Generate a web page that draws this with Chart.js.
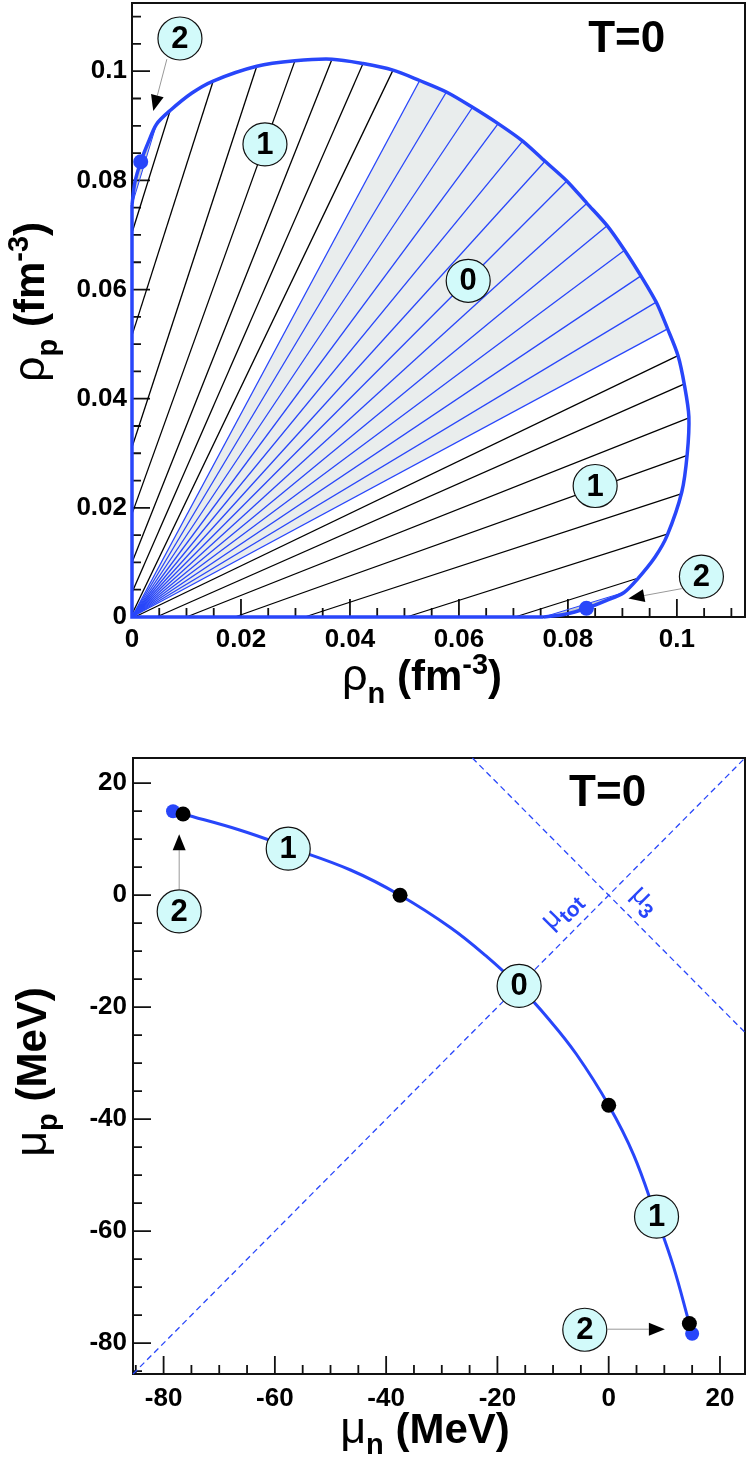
<!DOCTYPE html>
<html>
<head>
<meta charset="utf-8">
<script src="https://cdn.jsdelivr.net/npm/chart.js@4.4.1/dist/chart.umd.min.js"></script>
<style>
  html, body { margin: 0; padding: 0; background: #fff; }
  canvas { display: block; }
</style>
</head>
<body>
<canvas id="topChart" width="747" height="731"></canvas>
<canvas id="bottomChart" width="747" height="731"></canvas>
<script>
// ---- upper panel: densities (fm^-3) ----
const rhoMin = 0, rhoMax = 0.1125;
const rhoTicks = [0, 0.02, 0.04, 0.06, 0.08, 0.1];
const rhoTickLabels = ['0', '0.02', '0.04', '0.06', '0.08', '0.1'];

// boundary of the coexistence region, clockwise
const edgeN = [0, 0.0005, 0.0016, 0.0030, 0.0045, 0.0070, 0.0110, 0.0149, 0.0229, 0.0299,
  0.0367, 0.0424, 0.0479, 0.0528, 0.0577, 0.0625, 0.0672, 0.0717, 0.0758, 0.0798,
  0.0835, 0.0872, 0.0904, 0.0934, 0.0962, 0.0983, 0.1002, 0.1014, 0.1022, 0.1019,
  0.1009, 0.0982, 0.0960, 0.0928, 0.0903, 0.0870, 0.0834, 0.0795, 0.0755];
const edgeP = [0.0755, 0.0795, 0.0834, 0.0870, 0.0903, 0.0928, 0.0960, 0.0982, 0.1009, 0.1019,
  0.1022, 0.1014, 0.1002, 0.0983, 0.0962, 0.0934, 0.0904, 0.0872, 0.0835, 0.0799,
  0.0758, 0.0717, 0.0672, 0.0625, 0.0577, 0.0528, 0.0479, 0.0424, 0.0367, 0.0299,
  0.0229, 0.0149, 0.0110, 0.0070, 0.0045, 0.0030, 0.0016, 0.0005, 0];
const axisN = [0, 0, 0.0755];
const axisP = [0.0755, 0, 0];

// tie lines: proton gas (rho_n = 0) <-> liquid
const gasP = [0.0704, 0.0516, 0.0311, 0.0189, 0.0100, 0.0045, 0.0005];
const liqN = [0.0070, 0.0149, 0.0229, 0.0299, 0.0367, 0.0424, 0.0479];
const liqP = [0.0928, 0.0982, 0.1009, 0.1019, 0.1022, 0.1014, 0.1002];
// tie lines: neutron gas (rho_p = 0) <-> liquid
const gasN = [0.0703, 0.0504, 0.0317, 0.0189, 0.0100, 0.0045, 0.0005];
const liq2N = [0.0928, 0.0982, 0.1009, 0.1019, 0.1022, 0.1014, 0.1002];
const liq2P = [0.0071, 0.0152, 0.0226, 0.0296, 0.0365, 0.0427, 0.0479];
// liquid-vacuum tie lines (from the origin)
const vacN = [0.0528, 0.0577, 0.0625, 0.0672, 0.0717, 0.0758, 0.0798, 0.0835, 0.0872, 0.0904, 0.0934, 0.0962, 0.0983];
const vacP = [0.0983, 0.0962, 0.0934, 0.0904, 0.0872, 0.0835, 0.0799, 0.0758, 0.0717, 0.0672, 0.0625, 0.0577, 0.0528];
// small three-phase lens near the axes
const lensN = [0, 0.0005, 0.0016, 0.0030, 0.0045];
const lensP = [0.0755, 0.0795, 0.0834, 0.0870, 0.0903];
const dotN = [0.0016, 0.0834];
const dotP = [0.0834, 0.0016];

// ---- lower panel: chemical potentials (MeV) ----
const muMin = -85.5, muMax = 24.5;
const muTicks = [-80, -60, -40, -20, 0, 20];
const muTickLabels = ['-80', '-60', '-40', '-20', '0', '20'];
const curveN = [-76.5, -66.2, -57.3, -46.4, -37.5, -28.4, -22.1, -16.2, -10.8, -5.8, 0, 4.5, 8.5, 11.6, 14.5];
const curveP = [14.5, 11.6, 8.5, 4.5, 0, -5.8, -10.8, -16.2, -22.1, -28.4, -37.5, -46.4, -57.3, -66.2, -76.5];
const blackN = [-76.5, -37.5, 0, 14.5];
const blackP = [14.5, 0, -37.5, -76.5];
const blueN = [-78.3, 15.0];
const blueP = [15.0, -78.3];
const totN = [-85.5, 24.5], totP = [-85.5, 24.5];
const isoN = [-24.5, 24.5], isoP = [24.5, -24.5];

const BLUE = 'rgb(40,70,250)';
const FONT = '"Liberation Sans", Arial, Helvetica, sans-serif';

function pts(xs, ys) { return xs.map((v, i) => ({x: v, y: ys[i]})); }

function line(xs, ys, color, width, tension, dash) {
  return {data: pts(xs, ys), showLine: true, borderColor: color, borderWidth: width,
    borderDash: dash || [], pointRadius: 0, tension: tension, clip: false};
}

function dots(xs, ys, color, r) {
  return {data: pts(xs, ys), showLine: false, pointRadius: r, pointHoverRadius: r,
    pointBackgroundColor: color, pointBorderWidth: 0, clip: false};
}

function drawRuns(ctx, runs, x, y, rot) {
  ctx.save();
  ctx.translate(x, y);
  ctx.rotate(rot || 0);
  ctx.textAlign = 'left';
  ctx.textBaseline = 'alphabetic';
  let w = 0;
  runs.forEach(r => { ctx.font = r.font; w += ctx.measureText(r.text).width; });
  let cx = -w / 2;
  runs.forEach(r => {
    ctx.font = r.font;
    ctx.fillStyle = r.color || '#000';
    ctx.fillText(r.text, cx, r.dy || 0);
    cx += ctx.measureText(r.text).width;
  });
  ctx.restore();
}

function badge(ctx, px, py, text) {
  ctx.save();
  ctx.beginPath();
  ctx.ellipse(px, py, 22, 21.5, 0, 0, 2 * Math.PI);
  ctx.fillStyle = '#d2fafa';
  ctx.fill();
  ctx.lineWidth = 1.2;
  ctx.strokeStyle = '#111';
  ctx.stroke();
  ctx.font = 'bold 31px ' + FONT;
  ctx.fillStyle = '#000';
  ctx.textAlign = 'center';
  ctx.textBaseline = 'middle';
  ctx.fillText(text, px, py + 1);
  ctx.restore();
}

function arrow(ctx, x0, y0, x1, y1) {
  const a = Math.atan2(y1 - y0, x1 - x0);
  const L = 16, W = 6.5;
  const bx = x1 - L * Math.cos(a), by = y1 - L * Math.sin(a);
  ctx.save();
  ctx.strokeStyle = '#999';
  ctx.lineWidth = 1;
  ctx.beginPath();
  ctx.moveTo(x0, y0);
  ctx.lineTo(bx, by);
  ctx.stroke();
  ctx.fillStyle = '#000';
  ctx.beginPath();
  ctx.moveTo(x1, y1);
  ctx.lineTo(bx + W * Math.sin(a), by - W * Math.cos(a));
  ctx.lineTo(bx - W * Math.sin(a), by + W * Math.cos(a));
  ctx.closePath();
  ctx.fill();
  ctx.restore();
}

// frame, inner ticks, fills, labels -- one plugin per chart
function decor(spec) {
  return {
    id: 'decor',
    beforeDatasetsDraw(chart) {
      const ctx = chart.ctx, a = chart.chartArea;
      const xs = chart.scales.x, ys = chart.scales.y;
      spec.fills.forEach(f => {
        ctx.save();
        ctx.fillStyle = f.color;
        ctx.beginPath();
        f.xs.forEach((v, i) => {
          const px = xs.getPixelForValue(v), py = ys.getPixelForValue(f.ys[i]);
          if (i) ctx.lineTo(px, py); else ctx.moveTo(px, py);
        });
        ctx.closePath();
        ctx.fill();
        ctx.restore();
      });
      ctx.save();
      ctx.strokeStyle = '#111';
      ctx.lineWidth = 2;
      ctx.strokeRect(a.left, a.top, a.right - a.left, a.bottom - a.top);
      ctx.lineWidth = 1.8;
      ctx.beginPath();
      for (let k = 0; ; k++) {
        const v = spec.minorFrom + k * spec.minor;
        if (v > spec.max) break;
        const major = spec.ticks.some(t => Math.abs(t - v) < spec.minor / 10);
        const len = major ? 18 : 9;
        const px = xs.getPixelForValue(v), py = ys.getPixelForValue(v);
        ctx.moveTo(px, a.bottom); ctx.lineTo(px, a.bottom - len);
        ctx.moveTo(a.left, py); ctx.lineTo(a.left + len, py);
      }
      ctx.stroke();
      ctx.restore();
    },
    afterDatasetsDraw(chart) {
      const ctx = chart.ctx;
      const xs = chart.scales.x, ys = chart.scales.y;
      const X = v => xs.getPixelForValue(v), Y = v => ys.getPixelForValue(v);
      spec.arrows.forEach(r => arrow(ctx, X(r[0]), Y(r[1]), X(r[2]), Y(r[3])));
      spec.badges.forEach(b => badge(ctx, X(b[1]), Y(b[2]), b[0]));
      spec.notes.forEach(n => drawRuns(ctx, n.runs, X(n.x), Y(n.y), n.rot));
      spec.titles.forEach(t => drawRuns(ctx, t.runs, t.px, t.py, t.rot));
    }
  };
}

function scaleOpts(min, max, ticks, labels, fitSize, padding) {
  return {
    type: 'linear', min: min, max: max,
    afterBuildTicks: s => { s.ticks = ticks.map(v => ({value: v})); },
    afterFit: s => {
      if (s.isHorizontal()) s.height = fitSize; else s.width = fitSize;
      // keep the plot box where the layout padding puts it
      s.paddingTop = 0; s.paddingBottom = 0; s.paddingLeft = 0; s.paddingRight = 0;
    },
    ticks: {
      callback: v => labels[ticks.indexOf(v)],
      font: {family: FONT, size: 26, weight: 'bold'},
      color: '#000', padding: padding, maxRotation: 0, autoSkip: false
    },
    grid: {display: false, drawTicks: false},
    border: {display: false}
  };
}

function makeChart(id, datasets, xScale, yScale, padding, plugin) {
  return new Chart(document.getElementById(id), {
    type: 'scatter',
    data: {datasets: datasets},
    options: {
      responsive: false, animation: false, events: [], devicePixelRatio: 1,
      layout: {padding: padding, autoPadding: false},
      scales: {x: xScale, y: yScale},
      plugins: {legend: {display: false}, tooltip: {enabled: false}}
    },
    plugins: [plugin]
  });
}

const big = 'bold 42px ' + FONT;
const sub = 'bold 29px ' + FONT;
const greek = '45px ' + FONT;

// upper panel
const topSets = [dots(dotN, dotP, BLUE, 7.5), line(edgeN, edgeP, BLUE, 3.5, 0.3), line(axisN, axisP, BLUE, 3.5, 0),
  line([0, 0.0045], [0.0755, 0.0903], BLUE, 1, 0), line([0.0755, 0.0903], [0, 0.0045], BLUE, 1, 0)];
vacN.forEach((v, i) => topSets.push(line([0, v], [0, vacP[i]], BLUE, 1.3, 0)));
gasP.forEach((g, i) => topSets.push(line([0, liqN[i]], [g, liqP[i]], '#000', 1.3, 0)));
gasN.forEach((g, i) => topSets.push(line([g, liq2N[i]], [0, liq2P[i]], '#000', 1.3, 0)));

makeChart('topChart', topSets,
  scaleOpts(rhoMin, rhoMax, rhoTicks, rhoTickLabels, 114, 7),
  scaleOpts(rhoMin, rhoMax, rhoTicks, rhoTickLabels, 132, 5),
  {left: 0, right: 2, top: 3, bottom: 0},
  decor({
    minorFrom: 0, minor: 0.005, max: rhoMax, ticks: rhoTicks,
    fills: [
      {color: '#e9eded', xs: [0].concat(vacN), ys: [0].concat(vacP)},
      {color: '#c9ced3', xs: lensN, ys: lensP},
      {color: '#c9ced3', xs: lensP, ys: lensN}
    ],
    arrows: [[0.0064, 0.1022, 0.0039, 0.0927], [0.1009, 0.0052, 0.0911, 0.0034]],
    badges: [['2', 0.0088, 0.106], ['1', 0.0244, 0.0866], ['0', 0.0617, 0.0616], ['1', 0.085, 0.024], ['2', 0.1045, 0.0074]],
    notes: [{x: 0.0908, y: 0.1035, runs: [{text: 'T=0', font: 'bold 44px ' + FONT}]}],
    titles: [
      {px: 422, py: 690, runs: [{text: 'ρ', font: greek}, {text: 'n', font: sub, dy: 13},
        {text: ' (fm', font: big}, {text: '-3', font: sub, dy: -16}, {text: ')', font: big}]},
      {px: 44, py: 302, rot: -Math.PI / 2, runs: [{text: 'ρ', font: greek}, {text: 'p', font: sub, dy: 13},
        {text: ' (fm', font: big}, {text: '-3', font: sub, dy: -16}, {text: ')', font: big}]}
    ]
  }));

// lower panel
const botSets = [dots(blackN, blackP, '#000', 7.5), dots(blueN, blueP, BLUE, 7), line(curveN, curveP, BLUE, 3, 0.4),
  line(totN, totP, BLUE, 1.3, 0, [6, 4]), line(isoN, isoP, BLUE, 1.3, 0, [6, 4])];

makeChart('bottomChart', botSets,
  scaleOpts(muMin, muMax, muTicks, muTickLabels, 88, 9),
  scaleOpts(muMin, muMax, muTicks, muTickLabels, 133, 6),
  {left: 0, right: 2, top: 27, bottom: 0},
  decor({
    minorFrom: -85, minor: 5, max: muMax, ticks: muTicks,
    fills: [],
    arrows: [[-77.2, 1.1, -77.2, 10.9], [-0.2, -77.5, 10.1, -77.5]],
    badges: [['2', -77.2, -2.9], ['1', -57.6, 8.3], ['0', -16.1, -16.2], ['1', 8.6, -57.4], ['2', -4.3, -77.6]],
    notes: [
      {x: -0.2, y: 16.0, runs: [{text: 'T=0', font: 'bold 44px ' + FONT}]},
      {x: -7.6, y: -3.6, rot: -Math.PI / 4, runs: [{text: 'μ', font: '28px ' + FONT, color: BLUE},
        {text: 'tot', font: 'bold 21px ' + FONT, color: BLUE, dy: 7}]},
      {x: 5.6, y: -1.8, rot: Math.PI / 4, runs: [{text: 'μ', font: '28px ' + FONT, color: BLUE},
        {text: '3', font: 'bold 21px ' + FONT, color: BLUE, dy: 7}]}
    ],
    titles: [
      {px: 425, py: 712, runs: [{text: 'μ', font: greek}, {text: 'n', font: sub, dy: 11}, {text: ' (MeV)', font: big}]},
      {px: 46, py: 341, rot: -Math.PI / 2, runs: [{text: 'μ', font: greek}, {text: 'p', font: sub, dy: 11},
        {text: ' (MeV)', font: big}]}
    ]
  }));
</script>
</body>
</html>
